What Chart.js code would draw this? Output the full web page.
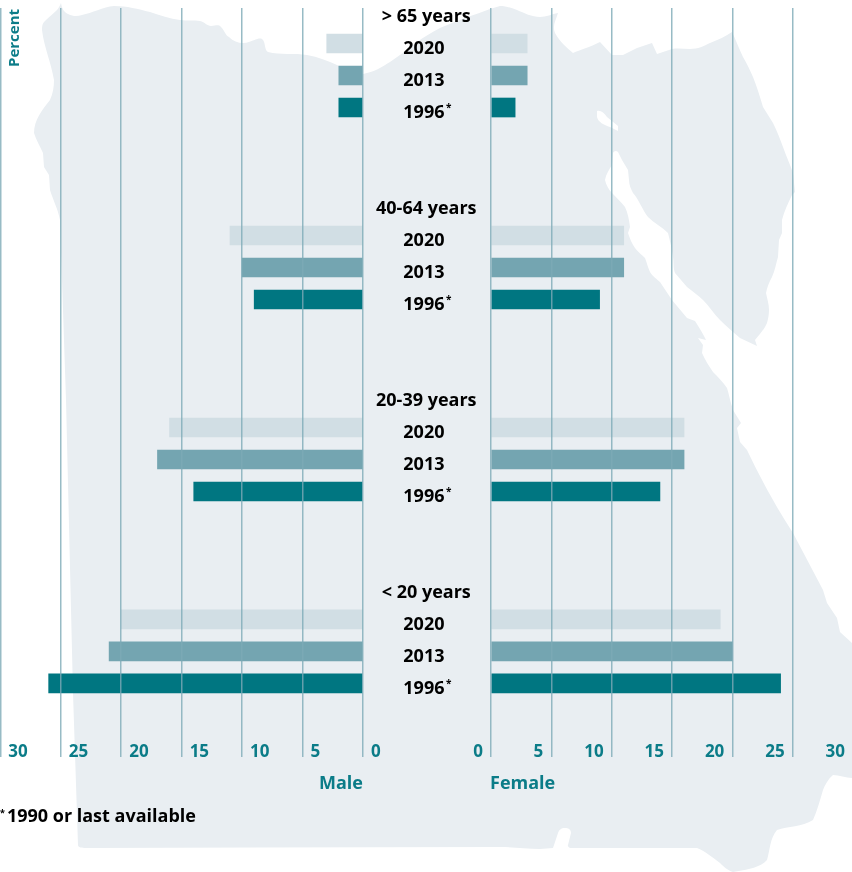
<!DOCTYPE html>
<html>
<head>
<meta charset="utf-8">
<script src="https://cdn.jsdelivr.net/npm/chart.js@4"></script>
<style>
html,body{margin:0;padding:0;background:#fff;width:852px;height:872px;overflow:hidden}
#map{position:absolute;left:0;top:0}
canvas{position:absolute;top:0}
#left{left:0}
#right{left:362px}
.t{position:absolute;font-family:"Open Sans";font-weight:700;white-space:nowrap}
#percent{left:-17px;top:28px;color:#0b7c88;font-size:15px;transform:rotate(-90deg);line-height:20px;width:60px;text-align:center}
#note{left:0;top:803px;font-size:18px;color:#000;line-height:24px}
#note sup{font-size:9px;vertical-align:6px;line-height:0;margin-right:2px}
#male,#female{top:770px;font-size:18px;line-height:24px;color:#0b7c88}
#male{right:489px}
#female{left:490px}
</style>
</head>
<body>
<svg id="map" width="852" height="872" viewBox="0 0 852 872">
<path fill="#e9eef2" d="M61 3C62 9 64 12 68 14C74 17 78 16 82 15C92 13 103 7 114 6C127 6 138 9 150 12C160 15 170 19 180 20C188 21 194 20 200 21C205 22 207 26 211 26C216 26 218 24 221 27C225 31 225 35 229 37C233 41 238 43 243 43C250 43 258 37 262 39C266 42 264 50 268 52C280 55 295 53 307 55C318 57 328 61 337 65C346 69 353 74 363 74C374 72 382 67 390 62C399 56 408 49 417 42C424 37 432 32 440 28C458 20 474 15 490 9L500 6C506 6 511 8 517 10C524 13 532 17 540 17C546 17 552 14 558 13C556 20 552 26 555 33C560 42 567 48 573 53C580 50 590 47 600 42L612 55L623 55L637 48L646 45L652 43L657 54L672 49C678 48 684 49 690 49C698 49 704 46 710 43C718 40 726 36 732 32C736 40 739 49 743 57C747 64 750 70 753 77C757 87 760 97 763 107L773 123C777 131 780 139 783 147C786 156 790 164 793 173L795 192L792 195C788 203 784 212 782 220L782 233L779 240L778 257C776 264 775 270 772 277C769 282 767 288 766 293C767 298 769 304 769 310C769 315 768 319 767 323C764 330 759 335 755 340L757 346L740 338C733 332 726 326 720 320C714 314 709 306 703 300C698 295 692 291 687 287C683 282 679 278 675 273C673 268 674 262 673 257C672 249 670 241 668 233C662 227 654 223 648 217C643 211 638 198 633 193C631 189 629 185 629 180L628 170L622 160L618 152C616 150 614 151 613 153L612 165C609 170 606 174 605 180C606 185 609 190 612 193C616 197 621 202 625 207C628 213 629 220 630 227L628 233C630 239 632 244 635 248C638 252 642 255 645 258C647 263 648 268 650 272C653 277 657 279 660 282C664 288 668 294 672 300C677 306 682 312 687 318L695 321C699 327 703 334 706 340L698 338L703 345L702 353C705 360 709 366 713 372C718 377 723 382 727 388C729 394 730 401 733 410L741 423L737 428L740 442L747 450C755 467 764 484 773 500C779 511 786 522 793 533C803 552 813 571 823 590L827 603L837 618L840 632L852 643L852 778C846 778 839 775 833 775C828 779 825 785 823 790C820 800 817 811 813 820C802 827 788 826 777 830C770 838 770 850 767 860C760 868 746 870 733 872C727 870 724 867 720 863C712 857 705 851 697 848L570 848C567 846 568 845 568 845L571 833C571 829 568 828 565 828C561 828 559 830 558 833L553 848L540 849C526 849 513 847 500 847L89 848C83 848 78 848 78 845L73 693L66 400L60 220C58 209 53 200 50 190L49 175L44 167L43 153C40 146 36 140 34 133C34 120 42 110 50 100C53 93 54 87 54 80C51 62 44 47 42 30C42 23 44 22 46 20C50 16 54 13 57 10C59 8 60 5 61 3Z"/>
<path fill="#fff" d="M597 111C601 110 604 113 607 117L618 126L618 131L610 127C604 125 598 122 597 117Z"/>
</svg>
<canvas id="left" width="491" height="872" style="width:491px;height:872px"></canvas>
<canvas id="right" width="491" height="872" style="width:491px;height:872px"></canvas>
<div class="t" id="percent">Percent</div>
<div class="t" id="male">Male</div>
<div class="t" id="female">Female</div>
<div class="t" id="note"><sup>*</sup>1990 or last available</div>
<script>
const ageGroups = ['> 65 years', '40-64 years', '20-39 years', '< 20 years'];
const years = ['2020', '2013', '1996'];
const male2020 = [3, 11, 16, 20];
const male2013 = [2, 10, 17, 21];
const male1996 = [2, 9, 14, 26];
const female2020 = [3, 11, 16, 19];
const female2013 = [3, 11, 16, 20];
const female1996 = [2, 9, 14, 24];
const axisTicks = [0, 5, 10, 15, 20, 25, 30];
const yearColors = ['#d1dee4', '#74a5b1', '#007681'];

const FONT = 'Open Sans';
const TEAL = '#0b7c88';
const GRID = 'rgba(125,170,182,0.8)';
const ROWS_PER_GROUP = 6;

const rowOf = (g, y) => g * ROWS_PER_GROUP + y + 1;
const rowLabels = [];
ageGroups.forEach((a, g) => {
  rowLabels.push({ value: g * ROWS_PER_GROUP, label: a });
  years.forEach((yr, y) => rowLabels.push({ value: rowOf(g, y), label: yr + ' ' }));
});

const mk = (series, i) => ({
  label: years[i],
  data: series.map((v, g) => ({ x: v, y: rowOf(g, i) })),
  backgroundColor: yearColors[i],
  borderWidth: 0,
  barThickness: 19,
  grouped: false
});

const starPlugin = {
  id: 'star',
  afterDraw(chart) {
    const c = chart.ctx, s = chart.scales.y;
    c.save();
    c.font = '700 10px "' + FONT + '"';
    c.fillStyle = '#000';
    c.textAlign = 'left';
    c.textBaseline = 'middle';
    ageGroups.forEach((a, g) => c.fillText('*', 446, s.getPixelForValue(rowOf(g, 2)) + 1));
    c.restore();
  }
};

const noPad = s => { s.paddingTop = s.paddingBottom = s.paddingLeft = s.paddingRight = 0; };

function build(id, seriesList, isMale) {
  new Chart(document.getElementById(id), {
    type: 'bar',
    data: { datasets: seriesList.map(mk) },
    plugins: isMale ? [starPlugin] : [],
    options: {
      indexAxis: 'y',
      responsive: false,
      animation: false,
      layout: { padding: { top: 8, bottom: 94, left: isMale ? 0.3 : 129, right: 0 } },
      plugins: { legend: { display: false }, tooltip: { enabled: false } },
      scales: {
        x: {
          type: 'linear', min: 0, max: 30, reverse: isMale, position: 'bottom',
          afterBuildTicks: s => { s.ticks = axisTicks.map(v => ({ value: v })); },
          afterFit: s => { s.height = 36; noPad(s); },
          border: { display: false },
          grid: { color: GRID, lineWidth: 1.5, z: 1, drawTicks: true, tickLength: 15 },
          ticks: {
            color: TEAL, font: { family: FONT, size: 17, weight: '700' },
            align: isMale ? 'start' : 'end', labelOffset: isMale ? 8 : -8,
            padding: -15, maxRotation: 0, autoSkip: false
          }
        },
        y: {
          type: 'linear', min: -0.11, max: 22.83, reverse: true, offset: false,
          display: isMale, position: 'right',
          afterBuildTicks: s => { s.ticks = rowLabels.map(r => ({ value: r.value })); },
          afterFit: s => { s.width = isMale ? 128 : 0; noPad(s); },
          border: { display: false },
          grid: { display: false, drawTicks: false },
          ticks: {
            color: '#000', font: { family: FONT, size: 18, weight: '700' },
            crossAlign: 'center', padding: 13, labelOffset: 5, autoSkip: false,
            callback: (v, i) => rowLabels[i].label
          }
        }
      }
    }
  });
}
build('left', [male2020, male2013, male1996], true);
build('right', [female2020, female2013, female1996], false);
</script>
</body>
</html>
